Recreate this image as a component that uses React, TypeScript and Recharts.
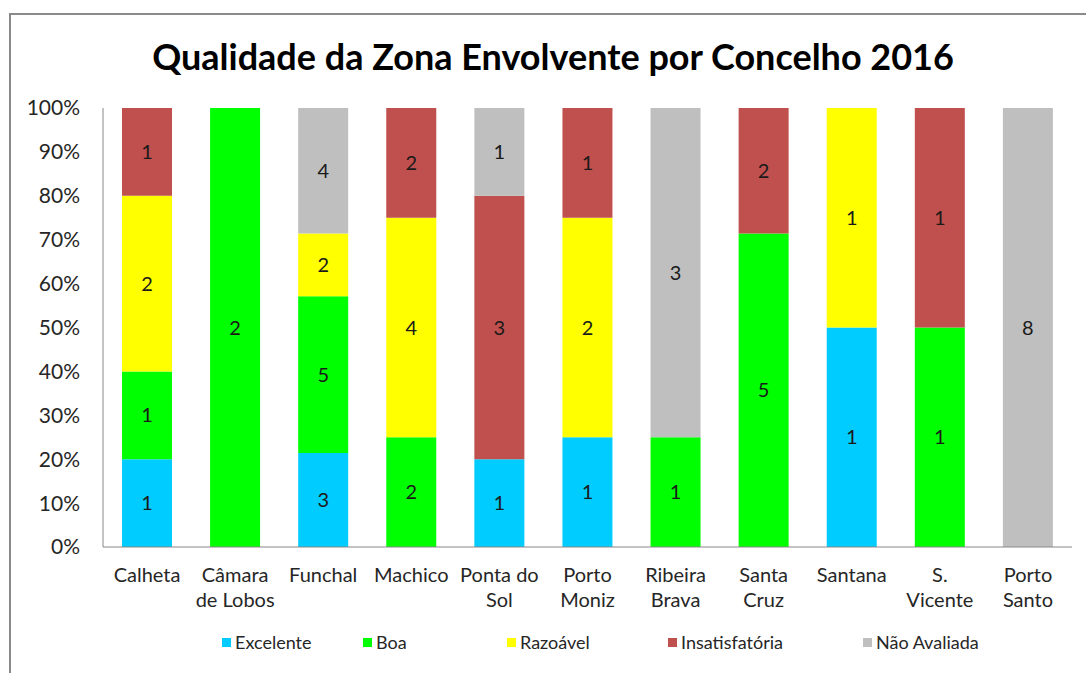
import { Bar, BarChart, LabelList, Legend, XAxis, YAxis } from "recharts";

// categories (line breaks follow the original axis labels)
const CONCELHOS = [
  "Calheta",
  "Câmara\nde Lobos",
  "Funchal",
  "Machico",
  "Ponta do\nSol",
  "Porto\nMoniz",
  "Ribeira\nBrava",
  "Santa\nCruz",
  "Santana",
  "S.\nVicente",
  "Porto\nSanto",
];

// number of zones per class and concelho
const EXCELENTE = [1, 0, 3, 0, 1, 1, 0, 0, 1, 0, 0];
const BOA = [1, 2, 5, 2, 0, 0, 1, 5, 0, 1, 0];
const RAZOAVEL = [2, 0, 2, 4, 0, 2, 0, 0, 1, 0, 0];
const INSATISFATORIA = [1, 0, 0, 2, 3, 1, 0, 2, 0, 1, 0];
const NAO_AVALIADA = [0, 0, 4, 0, 1, 0, 3, 0, 0, 0, 8];

const SERIES_NAMES = ["Excelente", "Boa", "Razoável", "Insatisfatória", "Não Avaliada"];
const SERIES_VALUES = [EXCELENTE, BOA, RAZOAVEL, INSATISFATORIA, NAO_AVALIADA];

const Y_TICKS = [0, 0.1, 0.2, 0.3, 0.4, 0.5, 0.6, 0.7, 0.8, 0.9, 1];

const COLORS = ["#00CCFF", "#00FF00", "#FFFF00", "#C0504D", "#BFBFBF"];
const LEGEND_X = [222, 363, 507, 668, 863];
const FONT = "Lato, 'Open Sans', sans-serif";

const data = CONCELHOS.map((name, i) => {
  const total = SERIES_VALUES.reduce((s, arr) => s + arr[i], 0);
  const row: Record<string, string | number> = { name };
  SERIES_VALUES.forEach((arr, k) => {
    row[`s${k}`] = arr[i] / total;
    row[`n${k}`] = arr[i];
  });
  return row;
});

function CategoryTick({ x, y, payload }: { x?: number; y?: number; payload?: { value: string } }) {
  const lines = String(payload?.value ?? "").split("\n");
  return (
    <text x={x} y={y} textAnchor="middle" fill="#262626" fontSize={20} fontFamily={FONT}>
      {lines.map((l, i) => (
        <tspan key={i} x={x} dy={i === 0 ? 35 : 25}>
          {l}
        </tspan>
      ))}
    </text>
  );
}

function ChartLegend() {
  return (
    <div style={{ position: "relative", height: 30, fontFamily: FONT, fontSize: 18, color: "#262626" }}>
      {SERIES_NAMES.map((name, k) => (
        <div
          key={name}
          style={{
            position: "absolute",
            left: LEGEND_X[k],
            top: 0,
            height: 30,
            display: "flex",
            alignItems: "center",
            whiteSpace: "nowrap",
          }}
        >
          <span style={{ width: 9, height: 9, background: COLORS[k], marginRight: 4 }} />
          {name}
        </div>
      ))}
    </div>
  );
}

export default function App() {
  return (
    <div style={{ position: "fixed", left: 0, top: 0, width: 1086, height: 673, background: "#fff" }}>
      <div
        style={{
          position: "absolute",
          left: 9,
          top: 13,
          width: 1200,
          height: 800,
          borderLeft: "2px solid #8a8a8a",
          borderTop: "2px solid #8a8a8a",
        }}
      />
      <div
        style={{
          position: "absolute",
          left: 0,
          top: 33,
          width: 1106,
          textAlign: "center",
          fontFamily: FONT,
          fontWeight: 700,
          fontSize: 36,
          lineHeight: "46px",
          color: "#000",
        }}
      >
        Qualidade da Zona Envolvente por Concelho 2016
      </div>
      <div style={{ position: "absolute", left: 0, top: 0 }}>
        <BarChart
          width={1086}
          height={673}
          data={data}
          margin={{ top: 108, right: 14, bottom: 16, left: 0 }}
        >
          <XAxis
            dataKey="name"
            interval={0}
            height={80}
            tickSize={0}
            tickMargin={0}
            axisLine={{ stroke: "#888888" }}
            tickLine={false}
            tick={<CategoryTick />}
          />
          <YAxis
            width={103}
            domain={[0, 1]}
            ticks={Y_TICKS}
            allowDataOverflow
            tickFormatter={(v: number) => `${Math.round(v * 100)}%`}
            tickSize={0}
            tickMargin={23}
            tickLine={false}
            axisLine={{ stroke: "#888888" }}
            tick={{ fill: "#262626", fontSize: 21, fontFamily: FONT }}
          />
          <Legend verticalAlign="bottom" content={<ChartLegend />} />
          {SERIES_NAMES.map((name, k) => (
            <Bar
              key={name}
              dataKey={`s${k}`}
              name={name}
              stackId="a"
              fill={COLORS[k]}
              barSize={50}
              isAnimationActive={false}
            >
              <LabelList
                dataKey={`n${k}`}
                position="center"
                formatter={(v: number) => (v ? String(v) : "")}
                fill="#1a1a1a"
                fontSize={20}
                fontFamily={FONT}
              />
            </Bar>
          ))}
        </BarChart>
      </div>
    </div>
  );
}
